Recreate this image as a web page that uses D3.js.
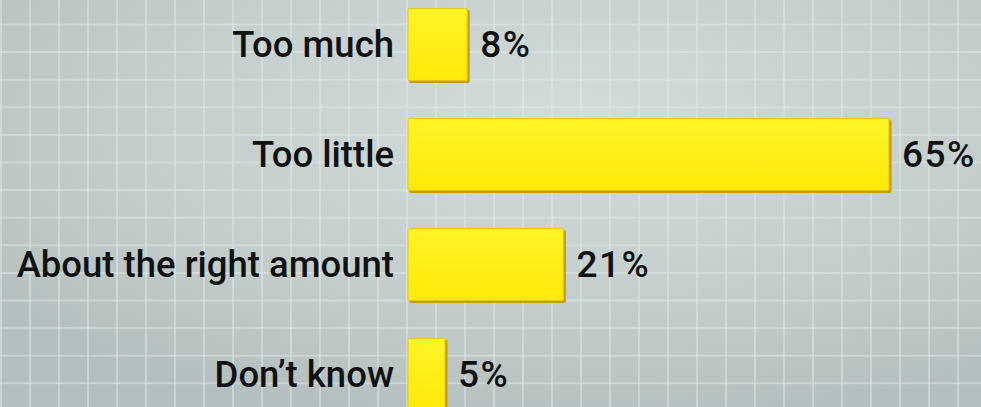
<!DOCTYPE html>
<html>
<head>
<meta charset="utf-8">
<script src="https://cdn.jsdelivr.net/npm/d3@7"></script>
<style>
  html, body { margin: 0; padding: 0; background: #bfcac8; overflow: hidden; }
  svg { display: block; }
</style>
</head>
<body>
<svg id="chart" width="981" height="407"></svg>
<script>
const categories = ["Too much", "Too little", "About the right amount", "Don\u2019t know"];
const values = [8, 65, 21, 5];
const valueLabels = ["8%", "65%", "21%", "5%"];

const W = 981, H = 407;
const svg = d3.select("#chart");
const defs = svg.append("defs");

// background gradient
const bg = defs.append("radialGradient").attr("id", "bg")
  .attr("cx", 0.58).attr("cy", 0.3).attr("r", 0.75);
bg.append("stop").attr("offset", "0%").attr("stop-color", "#d2dcda");
bg.append("stop").attr("offset", "60%").attr("stop-color", "#c3cecc");
bg.append("stop").attr("offset", "100%").attr("stop-color", "#b3bebe");
svg.append("rect").attr("width", W).attr("height", H).attr("fill", "url(#bg)");

// grid
const grid = svg.append("g").attr("stroke", "#e2e9e8").attr("stroke-opacity", 0.5).attr("stroke-width", 2);
d3.range(1, W, 29).forEach(x => grid.append("line").attr("x1", x).attr("x2", x).attr("y1", 0).attr("y2", H));
d3.range(-3.1, H, 27.6).forEach(y => grid.append("line").attr("y1", y).attr("y2", y).attr("x1", 0).attr("x2", W));

// bar gradient
const bar = defs.append("linearGradient").attr("id", "barFill").attr("x1", 0).attr("y1", 0).attr("x2", 0).attr("y2", 1);
bar.append("stop").attr("offset", "0%").attr("stop-color", "#fff426");
bar.append("stop").attr("offset", "100%").attr("stop-color", "#ffe90a");

const x = d3.scaleLinear().domain([0, 65]).range([408, 889]);
const y = d3.scaleBand().domain(categories).range([8.5, 410.5]).paddingInner(0.345).paddingOuter(0);

const rows = svg.append("g").selectAll("g").data(categories).join("g");

// shadow
rows.append("rect")
  .attr("x", d => x(0) + 1)
  .attr("y", d => y(d) + 1.5)
  .attr("width", (d, i) => x(values[i]) - x(0) + 1.5)
  .attr("height", y.bandwidth() + 1)
  .attr("rx", 2)
  .attr("fill", "#c99c0a");

rows.append("rect")
  .attr("x", d => x(0))
  .attr("y", d => y(d))
  .attr("width", (d, i) => x(values[i]) - x(0))
  .attr("height", y.bandwidth())
  .attr("rx", 1.5)
  .attr("fill", "url(#barFill)")
  .attr("stroke", "#e8c418")
  .attr("stroke-width", 1);

rows.append("text")
  .attr("x", 394)
  .attr("y", d => y(d) + y.bandwidth() / 2 + 12.5)
  .attr("text-anchor", "end")
  .attr("font-family", "Roboto, 'Liberation Sans', sans-serif")
  .attr("font-weight", 500)
  .attr("font-size", 36.5)
  .attr("fill", "#111")
  .text(d => d);

rows.append("text")
  .attr("x", (d, i) => x(values[i]) + 13)
  .attr("y", d => y(d) + y.bandwidth() / 2 + 12.5)
  .attr("font-family", "Roboto, 'Liberation Sans', sans-serif")
  .attr("font-weight", 500)
  .attr("font-size", 37)
  .attr("letter-spacing", 1.5)
  .attr("fill", "#111")
  .text((d, i) => valueLabels[i]);
</script>
</body>
</html>
